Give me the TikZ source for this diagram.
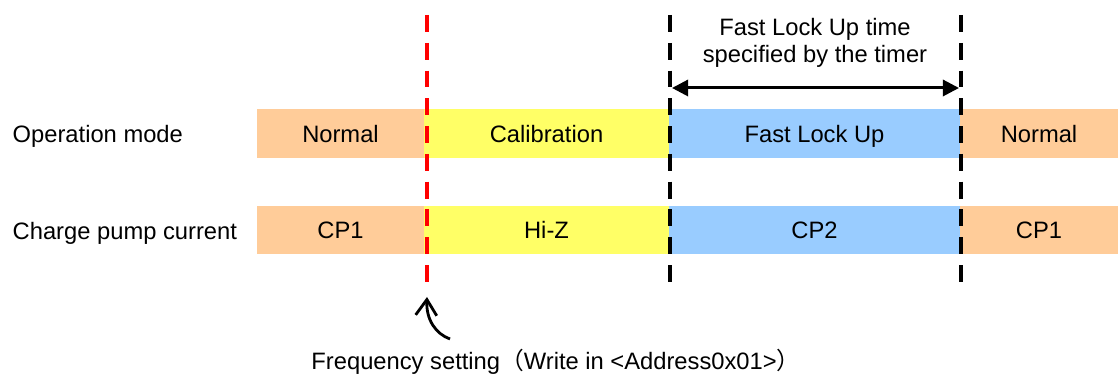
\documentclass[tikz,border=0pt]{standalone}
\usepackage{fontspec}
\setmainfont{Liberation Sans}
\newfontfamily\cjk{Noto Sans CJK JP}
\usetikzlibrary{arrows.meta}

\definecolor{peach}{RGB}{255,204,153}
\definecolor{lemon}{RGB}{255,255,102}
\definecolor{sky}{RGB}{153,204,255}

\tikzset{
  guide/.style={line width=1.35pt,dash pattern=on 4.8pt off 3.1pt},
  seg/.style={text=black,text height=0.72em,text depth=0pt},
}

\begin{document}
\begin{tikzpicture}[x=0.01cm,y=-0.01cm,inner sep=0pt]
\fontsize{6.75}{7.6}\selectfont
\useasboundingbox (0,0) rectangle (1118,374);

% row labels
\node[anchor=west,seg] (oplab) at (12,134) {Operation mode};
\node[anchor=west,seg] (cplab) at (12,231) {Charge pump current};

% coloured segments of both rows
\foreach \xa/\xb/\col/\opm/\cpc [count=\i] in {257/424/peach/Normal/CP1,
    424/669/lemon/Calibration/Hi-Z, 669/960/sky/Fast Lock Up/CP2,
    960/1118/peach/Normal/CP1}{
	\fill[\col] (\xa,109) rectangle node[seg] (op\i) {\opm} (\xb,158);
	\fill[\col] (\xa,206) rectangle node[seg] (cp\i) {\cpc} (\xb,254);}

% boundaries
\coordinate (rtop) at (427,15);  \coordinate (rbot) at (427,283);
\coordinate (ltop) at (670,15);  \coordinate (lbot) at (670,283);
\coordinate (etop) at (961,15);  \coordinate (ebot) at (961,283);
\draw[red,guide] (rtop) -- (rbot);
\draw[black,guide] (ltop) -- (lbot);
\draw[black,guide] (etop) -- (ebot);

% timer span
\coordinate (al) at (672,88);
\coordinate (ar) at (959,88);
\draw[line width=0.85pt,{Triangle[length=4.6pt,width=4.6pt]}-{Triangle[length=4.6pt,width=4.6pt]}] (al) -- (ar);
\node[align=center] (timer) at (815,43) {Fast Lock Up time\\specified by the timer};

% frequency setting
\coordinate (ftail) at (450,339);
\coordinate (ftip) at (427,297);
\draw[line width=0.8pt,-{Straight Barb[length=4.5pt,width=6pt]}] (ftail) .. controls (436,334) and (426,320) .. (ftip);
\node[seg] (freq) at (556,361) {Frequency setting{\cjk （}Write in <Address0x01>{\cjk ）}};
\end{tikzpicture}
\end{document}
